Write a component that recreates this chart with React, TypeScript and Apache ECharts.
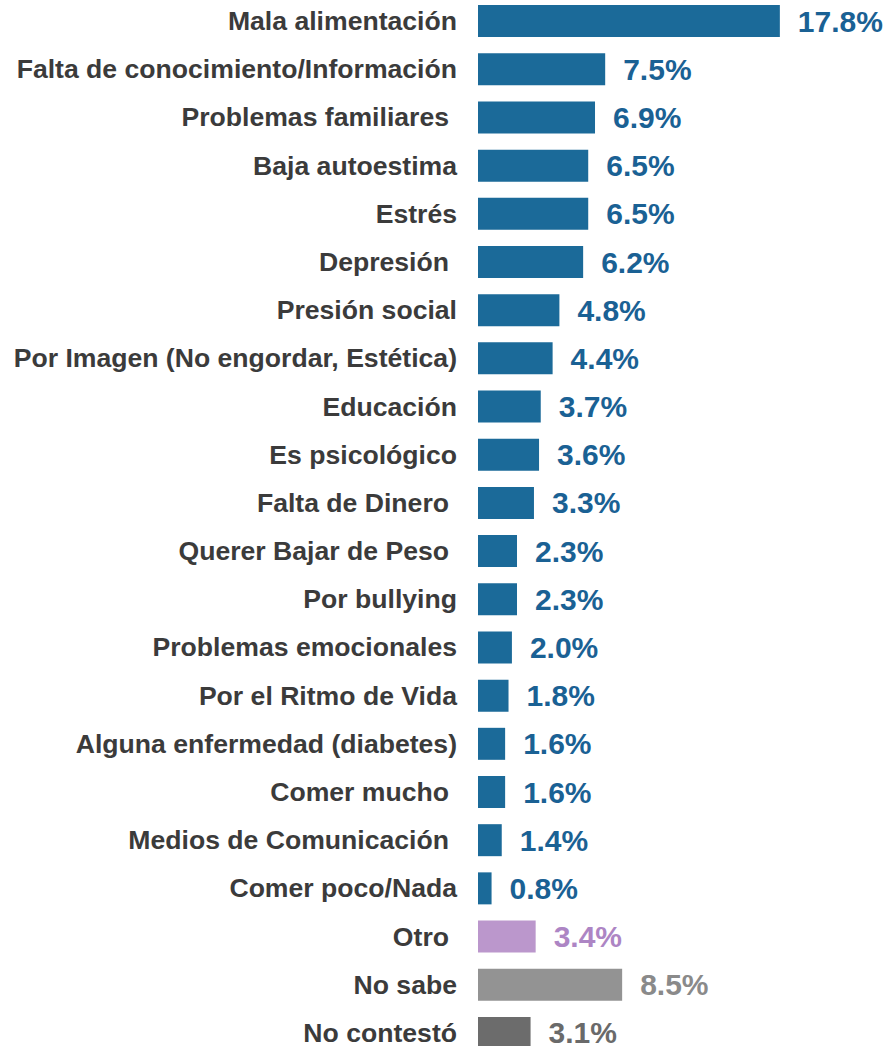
import React, { useEffect, useRef } from "react";
import * as echarts from "echarts";

const categories: string[] = [
  "Mala alimentación",
  "Falta de conocimiento/Información",
  "Problemas familiares ",
  "Baja autoestima",
  "Estrés",
  "Depresión ",
  "Presión social",
  "Por Imagen (No engordar, Estética)",
  "Educación",
  "Es psicológico",
  "Falta de Dinero ",
  "Querer Bajar de Peso ",
  "Por bullying",
  "Problemas emocionales",
  "Por el Ritmo de Vida",
  "Alguna enfermedad (diabetes)",
  "Comer mucho ",
  "Medios de Comunicación ",
  "Comer poco/Nada",
  "Otro ",
  "No sabe",
  "No contestó",
];

const values: number[] = [
  17.8, 7.5, 6.9, 6.5, 6.5, 6.2, 4.8, 4.4, 3.7, 3.6, 3.3, 2.3, 2.3, 2.0, 1.8,
  1.6, 1.6, 1.4, 0.8, 3.4, 8.5, 3.1,
];

// colour per answer kind
const specialBar: Record<string, string> = {
  "Otro ": "#bb97cc",
  "No sabe": "#939393",
  "No contestó": "#6c6c6c",
};
const specialText: Record<string, string> = {
  "Otro ": "#ad85c4",
  "No sabe": "#8a8a8a",
  "No contestó": "#6a6a6a",
};
const BLUE = "#1b6a99";
const BLUE_TEXT = "#1a6194";

export default function App() {
  const ref = useRef<HTMLDivElement>(null);
  useEffect(() => {
    if (!ref.current) return;
    const chart = echarts.init(ref.current, undefined, { renderer: "svg" });
    const font = "'Liberation Sans', Arial, Helvetica, sans-serif";
    const catStyle = { fontFamily: font, fontWeight: "bold", fontSize: 26.6, color: "#3b3b3b" };
    chart.setOption({
      animation: false,
      backgroundColor: "#ffffff",
      grid: { left: 478, right: 5, top: 0, bottom: 0, containLabel: false },
      xAxis: {
        type: "value",
        min: 0,
        max: 24,
        show: false,
      },
      yAxis: {
        type: "category",
        inverse: true,
        data: categories,
        axisLine: { show: false },
        axisTick: { show: false },
        splitLine: { show: false },
        axisLabel: {
          margin: 21,
          ...catStyle,
          formatter: (v: string) =>
            v.endsWith(" ") ? `{s|${v.trim()}}` : `{n|${v}}`,
          rich: {
            n: { ...catStyle },
            s: { ...catStyle, padding: [0, 8, 0, 0] },
          },
        },
      },
      series: [
        {
          type: "bar",
          barWidth: 32,
          data: values.map((v, i) => ({
            value: v,
            itemStyle: { color: specialBar[categories[i]] || BLUE },
            label: { color: specialText[categories[i]] || BLUE_TEXT },
          })),
          label: {
            show: true,
            position: "right",
            distance: 18,
            fontFamily: font,
            fontWeight: "bold",
            fontSize: 30,
            formatter: (p: any) => `${(p.value as number).toFixed(1)}%`,
          },
        },
      ],
    });
    return () => chart.dispose();
  }, []);
  return (
    <div
      ref={ref}
      style={{ position: "absolute", left: 0, top: -3, width: 890, height: 1060 }}
    />
  );
}
